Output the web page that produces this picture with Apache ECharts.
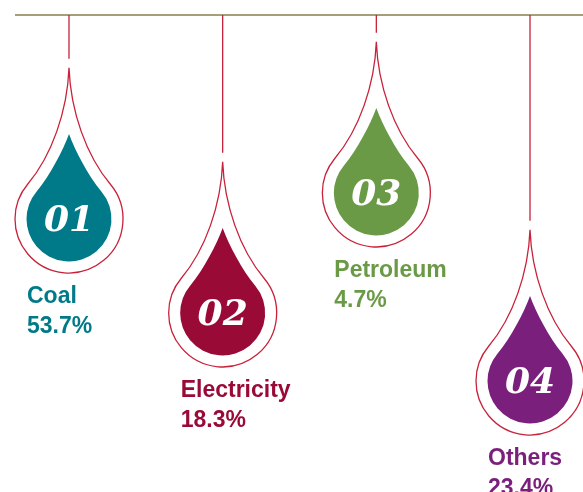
<!DOCTYPE html>
<html>
<head>
<meta charset="utf-8">
<script src="https://cdn.jsdelivr.net/npm/echarts@6/dist/echarts.min.js"></script>
<style>
  html, body { margin: 0; padding: 0; background: #fff; }
  #chartId { width: 583px; height: 492px; }
</style>
</head>
<body>
<div id="chartId"></div>
<script>
const categories = ['Coal', 'Electricity', 'Petroleum', 'Others']
const shares = [53.7, 18.3, 4.7, 23.4]
const codes = ['01', '02', '03', '04']

// how far each drop hangs below the rail (layout only)
const hangDepth = [204, 298, 178, 366]
const colors = ['#007a89', '#9a0a37', '#6b9a47', '#7a1f7c']

const OUTER_R = 54
const INNER_R = 42.5

// teardrop path: tip straight up, round body; k = tip height in radii
const dropPath = (cx, cy, rad, k, c1, c2) => {
  const px = 0.766 * rad
  const py = -0.643 * rad
  const p = (x, y) => (cx + x * rad).toFixed(2) + ',' + (cy + y * rad).toFixed(2)
  return 'M' + p(0, -k) +
    'C' + p(c1[0], c1[1]) + ' ' + p(c2[0], c2[1]) + ' ' + (cx + px).toFixed(2) + ',' + (cy + py).toFixed(2) +
    'A' + rad + ',' + rad + ' 0 1 1 ' + (cx - px).toFixed(2) + ',' + (cy + py).toFixed(2) +
    'C' + p(-c2[0], c2[1]) + ' ' + p(-c1[0], c1[1]) + ' ' + p(0, -k) + 'Z'
}

const renderItem = (params, api) => {
  const i = params.dataIndex
  const c = api.coord([api.value(0), api.value(1)])
  const rail = api.coord([api.value(0), 0])
  const cx = c[0]
  const cy = c[1]
  const tipY = cy - 2.8 * OUTER_R
  const color = colors[i]
  return {
    type: 'group',
    children: [
      {
        type: 'line',
        shape: { x1: cx, y1: rail[1], x2: cx, y2: tipY - 9 },
        style: { stroke: '#c8213a', lineWidth: 1.3 }
      },
      {
        type: 'path',
        shape: { pathData: dropPath(cx, cy, OUTER_R, 2.8, [0.03, -2.0], [0.316, -1.179]) },
        style: { fill: 'none', stroke: '#c8213a', lineWidth: 1.3 }
      },
      {
        type: 'path',
        shape: { pathData: dropPath(cx, cy, INNER_R, 2, [0.15, -1.6], [0.445, -1.026]) },
        style: { fill: color }
      },
      {
        type: 'text',
        style: {
          text: codes[i],
          x: cx,
          y: cy + 3,
          align: 'center',
          verticalAlign: 'middle',
          fill: '#fff',
          fontFamily: 'DejaVu Serif',
          fontStyle: 'italic',
          fontWeight: 'bold',
          fontSize: 36
        }
      },
      {
        type: 'text',
        style: {
          text: categories[i] + '\n' + shares[i].toFixed(1) + '%',
          x: cx - 42,
          y: cy + OUTER_R + 9,
          align: 'left',
          verticalAlign: 'top',
          fill: color,
          fontFamily: 'Liberation Sans',
          fontWeight: 'bold',
          fontSize: 23,
          lineHeight: 30
        }
      }
    ]
  }
}

const myChart = echarts.init(document.getElementById('chartId'))
const option = {
  animation: false,
  grid: { left: 69, right: 53, top: 15, bottom: 0 },
  xAxis: { type: 'category', data: categories, boundaryGap: false, show: false },
  yAxis: { type: 'value', inverse: true, min: 0, max: 477, show: false },
  graphic: [
    {
      type: 'line',
      shape: { x1: 15, y1: 15, x2: 583, y2: 15 },
      style: { stroke: '#a59d7c', lineWidth: 2 }
    }
  ],
  series: [
    {
      type: 'custom',
      clip: false,
      renderItem: renderItem,
      data: categories.map((name, i) => [i, hangDepth[i]])
    }
  ]
}
myChart.setOption(option)
</script>
</body>
</html>
